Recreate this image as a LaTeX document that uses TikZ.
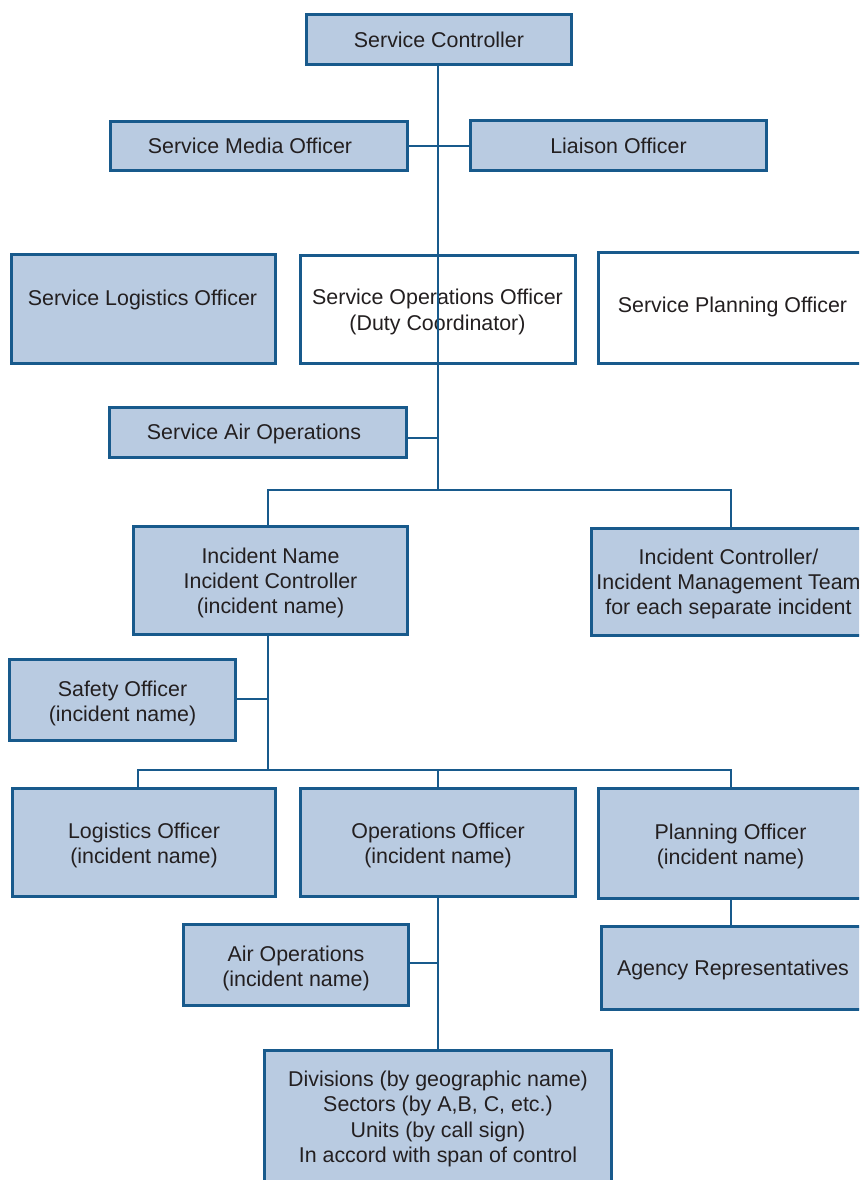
\documentclass[tikz,border=0pt]{standalone}
\usepackage{fontspec}
\setmainfont{Liberation Sans}
\definecolor{boxfill}{HTML}{B9CBE1}
\definecolor{edgecol}{HTML}{185A8C}
\definecolor{txt}{HTML}{231F20}
\begin{document}
\begin{tikzpicture}[x=1pt,y=-1pt,
  box/.style={draw=edgecol, line width=2.6pt, fill=boxfill, text=txt, align=center, inner sep=0pt, outer sep=0pt,
    font=\fontsize{21.4}{25.3}\selectfont},
  wbox/.style={box, fill=white},
  lbl/.style={text=txt, align=center, inner sep=0pt, font=\fontsize{21.4}{25.3}\selectfont},
  conn/.style={draw=edgecol, line width=2.6pt}]
\useasboundingbox (0,0) rectangle (859,1180);
\clip (0,0) rectangle (859,1180);
\fill[white] (0,0) rectangle (859,1180);
% top level
\node[box, minimum width=265, minimum height=50] (sc) at (439,39.5) {Service Controller};
\node[box, minimum width=297, minimum height=49] (smo) at (259,146) {};
\node[lbl] (smot) at (250,146) {Service Media Officer};
\node[box, minimum width=296, minimum height=50] (lo) at (618.5,145.5) {Liaison Officer};
\node[box, minimum width=264, minimum height=109] (slo) at (143.5,309) {};
\node[lbl] (slot) at (142.5,300) {Service Logistics Officer};
\node[wbox, minimum width=275, minimum height=108] (soo) at (438,309.5) {};
\node[lbl] (soot) at (437.5,312) {Service Operations Officer\\(Duty Coordinator)};
\node[wbox, minimum width=273, minimum height=111] (spo) at (735,308) {};
\node[lbl] (spot) at (732.5,307) {Service Planning Officer};
\node[box, minimum width=297, minimum height=50] (sao) at (258,432.5) {};
\node[lbl] (saot) at (254,433.5) {Service Air Operations};
% incident level
\node[box, minimum width=274, minimum height=108] (inc) at (270.5,580.5) {};
\node[lbl] (inct) at (270.5,583) {Incident Name\\Incident Controller\\(incident name)};
\node[box, minimum width=280, minimum height=107] (icm) at (731.75,582) {};
\node[lbl] (icmt) at (728.5,584) {Incident Controller/\\Incident Management Team\\for each separate incident};
\node[box, minimum width=226, minimum height=81] (saf) at (122.5,700) {};
\node[lbl] (saft) at (122.5,703.5) {Safety Officer\\(incident name)};
\node[box, minimum width=263, minimum height=108] (log) at (144,842.5) {};
\node[lbl] (logt) at (144,845.5) {Logistics Officer\\(incident name)};
\node[box, minimum width=275, minimum height=108] (ops) at (438,842.5) {};
\node[lbl] (opst) at (438,845.5) {Operations Officer\\(incident name)};
\node[box, minimum width=273, minimum height=110] (plan) at (735,843.5) {};
\node[lbl] (plant) at (730.5,846.5) {Planning Officer\\(incident name)};
\node[box, minimum width=225, minimum height=81] (air) at (296,965) {};
\node[lbl] (airt) at (296,968.5) {Air Operations\\(incident name)};
\node[box, minimum width=270, minimum height=83] (agy) at (736.75,968) {};
\node[lbl] (agyt) at (733,969.5) {Agency Representatives};
\node[box, minimum width=347, minimum height=146] (div) at (438,1123.5) {};
\node[lbl] (divt) at (438,1119) {Divisions (by geographic name)\\Sectors (by A,B, C, etc.)\\Units (by call sign)\\In accord with span of control};
% junctions
\coordinate (j1) at (438,146);
\coordinate (j2) at (438,438);
\coordinate (j3) at (438,490);
\coordinate (j3l) at (268,490);
\coordinate (j3r) at (731,490);
\coordinate (k1) at (268,699);
\coordinate (k2) at (268,770);
\coordinate (k2l) at (138,770);
\coordinate (k2r) at (731,770);
\coordinate (k2m) at (438,770);
\coordinate (m1) at (438,963);
% connectors
\draw[conn] (sc.south -| j1) -- (j3);
\draw[conn] (smo.east |- j1) -- (lo.west |- j1);
\draw[conn] (sao.east |- j2) -- (j2);
\draw[conn] (j3l |- inc.north) -- (j3l) -- (j3r) -- (j3r |- icm.north);
\draw[conn] (k2 |- inc.south) -- (k2);
\draw[conn] (saf.east |- k1) -- (k1);
\draw[conn] (k2l |- log.north) -- (k2l) -- (k2r) -- (k2r |- plan.north);
\draw[conn] (k2m) -- (k2m |- ops.north);
\draw[conn] (m1 |- ops.south) -- (m1 |- div.north);
\draw[conn] (air.east |- m1) -- (m1);
\draw[conn] (k2r |- plan.south) -- (k2r |- agy.north);
\end{tikzpicture}
\end{document}
